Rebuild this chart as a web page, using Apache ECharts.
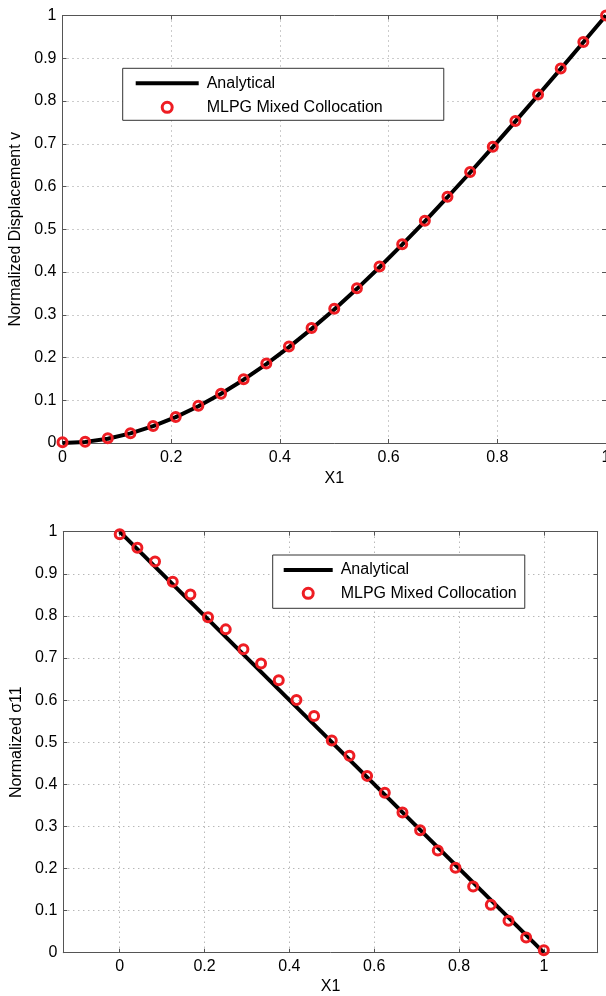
<!DOCTYPE html>
<html>
<head>
<meta charset="utf-8">
<script src="https://cdn.jsdelivr.net/npm/echarts@6/dist/echarts.min.js"></script>
<style>
html,body{margin:0;padding:0;background:#fff;overflow:hidden;}
#chart{width:606px;height:996px;}
</style>
</head>
<body>
<div id="chart"></div>
<script>
// ---- data ----
var xNodes = [0, 0.0417, 0.0833, 0.125, 0.1667, 0.2083, 0.25, 0.2917, 0.3333, 0.375, 0.4167, 0.4583, 0.5, 0.5417, 0.5833, 0.625, 0.6667, 0.7083, 0.75, 0.7917, 0.8333, 0.875, 0.9167, 0.9583, 1];
var dispAnalytical = [0, 0.0026, 0.0101, 0.0225, 0.0394, 0.0606, 0.0859, 0.1152, 0.1481, 0.1846, 0.2242, 0.2670, 0.3125, 0.3606, 0.4112, 0.4639, 0.5185, 0.5749, 0.6328, 0.6920, 0.7523, 0.8135, 0.8752, 0.9376, 1.0];
var dispMLPG = [0.002, 0.003, 0.011, 0.023, 0.040, 0.061, 0.087, 0.115, 0.149, 0.186, 0.226, 0.269, 0.314, 0.362, 0.413, 0.465, 0.520, 0.576, 0.634, 0.693, 0.753, 0.815, 0.876, 0.938, 1.0];
var stressLineX = [0, 1];
var stressAnalytical = [1.0, 0.0];
var stressMLPG = [0.994, 0.962, 0.929, 0.881, 0.851, 0.797, 0.768, 0.721, 0.687, 0.647, 0.600, 0.562, 0.504, 0.468, 0.420, 0.380, 0.333, 0.291, 0.243, 0.202, 0.157, 0.114, 0.076, 0.036, 0.006];
var seriesNames = ['Analytical', 'MLPG Mixed Collocation'];
var xLabelTop = 'X1', yLabelTop = 'Normalized Displacement v';
var xLabelBot = 'X1', yLabelBot = 'Normalized \u03c311';

function pairs(xs, ys){ return xs.map(function(x,i){ return [x, ys[i]]; }); }

var FONT = '"Liberation Sans", Arial, Helvetica, sans-serif';
var AX = '#555';
var TXT = '#000';
var RED = '#ee1d23';

function fmt(v){ return String(Math.round(v*10)/10); }

function mainX(gi, min, max, interval, name, gap, extra){
  var a = {
    type:'value', gridIndex:gi, min:min, max:max, position:'bottom',
    name:name, nameLocation:'middle', nameGap:gap,
    nameTextStyle:{fontFamily:FONT, fontSize:16, color:TXT},
    axisLine:{show:true, onZero:false, lineStyle:{color:AX, width:1}},
    axisTick:{show:true, inside:true, length:4, lineStyle:{color:AX}},
    axisLabel:{fontFamily:FONT, fontSize:16, color:TXT, margin:7, formatter:fmt},
    splitLine:{show:true, lineStyle:{color:'#999', type:[1,4], width:1}}
  };
  if (interval) a.interval = interval;
  for (var k in extra) a[k] = extra[k];
  return a;
}
function mirrorX(gi, min, max, interval, extra){
  var a = {type:'value', gridIndex:gi, min:min, max:max, position:'top',
    axisLine:{show:true, onZero:false, lineStyle:{color:AX}},
    axisTick:{show:true, inside:true, length:4, lineStyle:{color:AX}},
    axisLabel:{show:false}, splitLine:{show:false}};
  if (interval) a.interval = interval;
  for (var k in extra) a[k] = extra[k];
  return a;
}
function mainY(gi, name){
  return {type:'value', gridIndex:gi, min:0, max:1, interval:0.1, position:'left',
    name:name, nameLocation:'middle', nameGap:37, nameRotate:90,
    nameTextStyle:{fontFamily:FONT, fontSize:16, color:TXT},
    axisLine:{show:true, onZero:false, lineStyle:{color:AX}},
    axisTick:{show:true, inside:true, length:4, lineStyle:{color:AX}},
    axisLabel:{fontFamily:FONT, fontSize:16, color:TXT, margin:6, formatter:fmt},
    splitLine:{show:true, lineStyle:{color:'#999', type:[1,4], width:1}}};
}
function mirrorY(gi){
  return {type:'value', gridIndex:gi, min:0, max:1, interval:0.1, position:'right',
    axisLine:{show:true, onZero:false, lineStyle:{color:AX}},
    axisTick:{show:true, inside:true, length:4, lineStyle:{color:AX}},
    axisLabel:{show:false}, splitLine:{show:false}};
}

var legendText = {fontFamily:FONT, fontSize:16, color:TXT, lineHeight:16, padding:[0,0,0,3]};
function legendData(w){
  return [
    {name:seriesNames[0], icon:'path://M0,0 L' + w + ',0 L' + w + ',4 L0,4 Z', itemStyle:{color:'#000', borderWidth:0}},
    {name:seriesNames[1], icon:'circle', itemStyle:{color:'rgba(255,255,255,0)', borderColor:RED, borderWidth:3}}
  ];
}

var option = {
  backgroundColor:'#fff',
  animation:false,
  grid:[
    {left:62.5, top:15.5, width:543.5, height:427.5, containLabel:false, outerBoundsMode:'none'},
    {left:63.3, top:531.7, width:534.4, height:421, containLabel:false, outerBoundsMode:'none'}
  ],
  xAxis:[
    mainX(0, 0, 1, 0.2, xLabelTop, 28, {}),
    mirrorX(0, 0, 1, 0.2, {}),
    mainX(1, -0.133, 1.127, null, xLabelBot, 26, {splitNumber:6, axisLabel:{fontFamily:FONT, fontSize:16, color:TXT, margin:6, showMinLabel:false, showMaxLabel:false, formatter:fmt}}),
    mirrorX(1, -0.133, 1.127, null, {splitNumber:6})
  ],
  yAxis:[ mainY(0, yLabelTop), mirrorY(0), mainY(1, yLabelBot), mirrorY(1) ],
  legend:[
    {left:122.7, top:68.3, orient:'vertical', data:legendData(63),
     itemWidth:63, itemHeight:10, itemGap:8, padding:[7,61,5,13],
     backgroundColor:'#fff', borderColor:'#333', borderWidth:1, borderRadius:0,
     textStyle:legendText, selectedMode:false},
    {left:272.7, top:555, orient:'vertical', data:legendData(49),
     itemWidth:49, itemHeight:10, itemGap:7.3, padding:[7,8,7,11],
     backgroundColor:'#fff', borderColor:'#333', borderWidth:1, borderRadius:0,
     textStyle:legendText, selectedMode:false}
  ],
  series:[
    {name:seriesNames[0], type:'line', xAxisIndex:0, yAxisIndex:0, data:pairs(xNodes, dispAnalytical),
     showSymbol:false, symbol:'none', lineStyle:{color:'#000', width:4}, itemStyle:{color:'#000'}, z:2},
    {name:seriesNames[1], type:'scatter', xAxisIndex:0, yAxisIndex:0, data:pairs(xNodes, dispMLPG),
     symbol:'circle', symbolSize:9, itemStyle:{color:'rgba(255,255,255,0)', borderColor:RED, borderWidth:3, opacity:1}, z:3},
    {name:seriesNames[0], type:'line', xAxisIndex:2, yAxisIndex:2, data:pairs(stressLineX, stressAnalytical),
     showSymbol:false, symbol:'none', lineStyle:{color:'#000', width:4}, itemStyle:{color:'#000'}, z:2},
    {name:seriesNames[1], type:'scatter', xAxisIndex:2, yAxisIndex:2, data:pairs(xNodes, stressMLPG),
     symbol:'circle', symbolSize:9, itemStyle:{color:'rgba(255,255,255,0)', borderColor:RED, borderWidth:3, opacity:1}, z:3}
  ]
};
var chart = echarts.init(document.getElementById('chart'), null, {renderer:'canvas'});
chart.setOption(option);
</script>
</body>
</html>
